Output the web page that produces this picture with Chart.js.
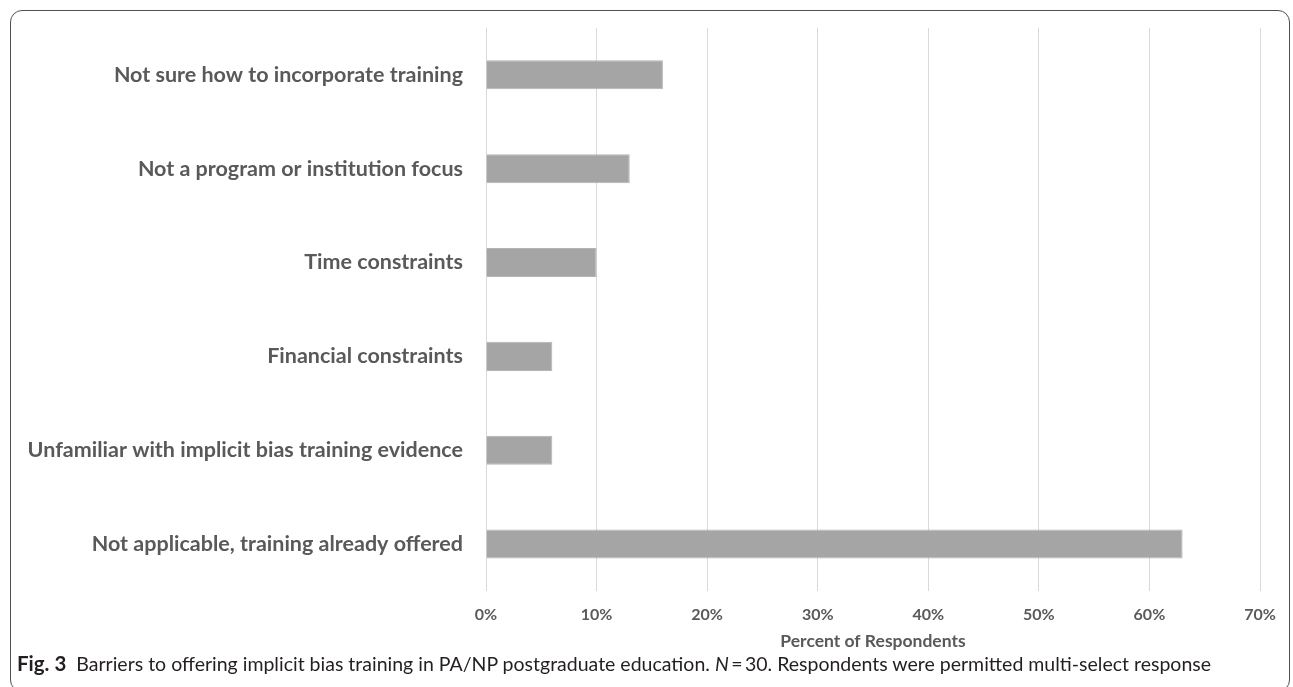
<!DOCTYPE html>
<html>
<head>
<meta charset="utf-8">
<script src="https://cdn.jsdelivr.net/npm/chart.js@4"></script>
<style>
html, body { margin: 0; padding: 0; background: #fff; }
body { width: 1293px; height: 687px; position: relative; overflow: hidden; }
#frame {
  position: absolute; left: 10px; top: 10px; width: 1280px; height: 682px;
  border: 1.5px solid #505050; border-radius: 12px; box-sizing: border-box;
}
#wrap { position: absolute; left: 0; top: 0; width: 1293px; height: 687px; }
#caption {
  position: absolute; left: 17px; top: 651px; white-space: nowrap; line-height: 24px;
  font-family: Lato, sans-serif; font-size: 19.5px; color: #231f20;
}
#caption b { font-weight: 700; font-size: 20.5px; margin-right: 5px; }
</style>
</head>
<body>
<div id="frame"></div>
<div id="wrap"><canvas id="barriersChart"></canvas></div>
<div id="caption"><b>Fig. 3</b> Barriers to offering implicit bias training in PA/NP postgraduate education. <i>N</i>&#8201;=&#8201;30. Respondents were permitted multi-select response</div>
<script>
const barrierLabels = [
  'Not sure how to incorporate training',
  'Not a program or institution focus',
  'Time constraints',
  'Financial constraints',
  'Unfamiliar with implicit bias training evidence',
  'Not applicable, training already offered'
];
const barrierPercents = [16, 13, 10, 6, 6, 63];
const axisTicks = [0, 10, 20, 30, 40, 50, 60, 70];

const labelColor = '#595959';
const gridColor = '#d9d9d9';

new Chart(document.getElementById('barriersChart'), {
  type: 'bar',
  data: {
    labels: barrierLabels,
    datasets: [{
      label: 'Percent of Respondents',
      data: barrierPercents,
      backgroundColor: '#a5a5a5',
      borderColor: '#b4b4b4',
      borderWidth: 1,
      barPercentage: 0.31,
      categoryPercentage: 1
    }]
  },
  options: {
    indexAxis: 'y',
    responsive: true,
    maintainAspectRatio: false,
    animation: false,
    layout: { padding: { left: 10, right: 33, top: 27, bottom: 0 } },
    plugins: { legend: { display: false }, tooltip: { enabled: false } },
    scales: {
      x: {
        min: 0,
        max: 70,
        afterBuildTicks: (scale) => { scale.ticks = axisTicks.map(v => ({ value: v })); },
        afterFit: (scale) => { scale.height = 96; },
        // transparent tick marks push the labels down without widening the side padding
        grid: { color: gridColor, drawTicks: true, tickLength: 14, tickColor: 'rgba(0,0,0,0)', lineWidth: 1 },
        border: { display: false },
        ticks: {
          color: labelColor,
          padding: 0,
          font: { family: 'Lato, sans-serif', size: 16, weight: 'bold' },
          callback: (v) => v + '%'
        },
        title: {
          display: true,
          text: 'Percent of Respondents',
          color: labelColor,
          font: { family: 'Lato, sans-serif', size: 17.5, weight: 'bold' },
          padding: { top: 0, bottom: 35 }
        }
      },
      y: {
        afterFit: (scale) => { scale.width = 476; },
        grid: { display: false },
        border: { display: false },
        ticks: {
          color: labelColor,
          padding: 15,
          font: { family: 'Lato, sans-serif', size: 21.5, weight: 'bold' }
        }
      }
    }
  }
});
</script>
</body>
</html>
